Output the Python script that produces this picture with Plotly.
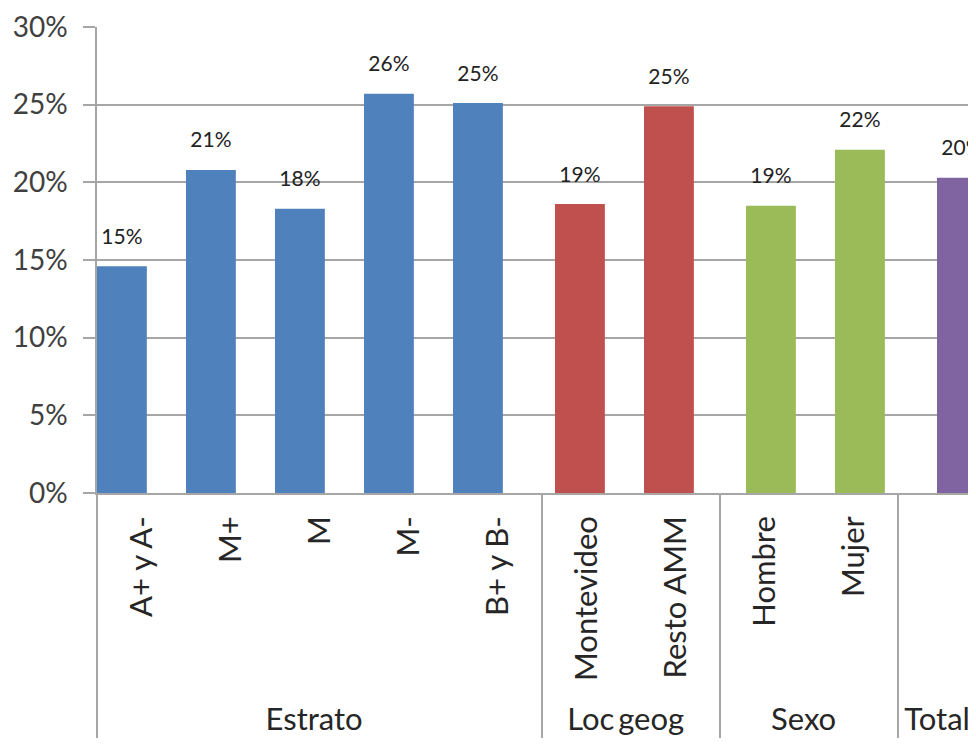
import plotly.graph_objects as go

# Values (share of respondents)
GROUPS = ["Estrato", "Loc geog", "Sexo", "Total"]
CATEGORIES = [
    ["A+ y A-", "M+", "M", "M-", "B+ y B-"],
    ["Montevideo", "Resto AMM"],
    ["Hombre", "Mujer"],
    [""],
]
VALUES = [
    [0.146, 0.208, 0.183, 0.257, 0.251],
    [0.186, 0.249],
    [0.185, 0.221],
    [0.203],
]
LABELS = [
    ["15%", "21%", "18%", "26%", "25%"],
    ["19%", "25%"],
    ["19%", "22%"],
    ["20%"],
]
GROUP_LABELS = ["Estrato", "Loc\u2009geog", "Sexo", "Total"]

COLORS = ["#4F81BD", "#C0504D", "#9BBB59", "#8064A2"]
# excel-style overlapping clusters: each series shifted a bit to the right
OFFSETS = [-0.5, -0.354, -0.208, -0.062]
BAR_WIDTH = 0.56
LABEL_GAP = 0.01  # empty space between bar top and its value label

FONT = "Lato"
GRID = "#A6A6A6"

fig = go.Figure()

for g, cats, vals, labs, col, off, glab in zip(GROUPS, CATEGORIES, VALUES, LABELS,
                                              COLORS, OFFSETS, GROUP_LABELS):
    xs = [[glab] * len(cats), cats]
    fig.add_trace(go.Bar(
        x=xs, y=vals,
        marker=dict(color=col, line=dict(width=0)),
        width=BAR_WIDTH, offset=off,
        name=g, showlegend=False,
    ))
    # invisible spacer bar sitting on top, only used to lift the label
    fig.add_trace(go.Bar(
        x=xs, y=[LABEL_GAP] * len(vals), base=vals,
        text=labs, textposition='outside',
        textfont=dict(family=FONT, size=21, color='#222222'),
        marker=dict(color='rgba(0,0,0,0)', line=dict(width=0)),
        width=BAR_WIDTH, offset=off,
        hoverinfo='skip', showlegend=False,
    ))

# the page adds an 8px body margin, so margins are trimmed by 8
fig.update_layout(
    width=976, height=747,
    margin=dict(l=89, r=0, t=19, b=262),
    paper_bgcolor='white',
    plot_bgcolor='white',
    barmode='overlay',
    font=dict(family=FONT, size=28, color='#404040'),
)

fig.update_xaxes(
    type='multicategory',
    range=[-0.5, 9.466],
    automargin=False,
    showline=True, linecolor=GRID, linewidth=1.5,
    ticks='',
    tickangle=-90,
    ticklabelstandoff=9,
    tickfont=dict(family=FONT, size=31, color='#262626'),
    showdividers=True, dividercolor=GRID, dividerwidth=1.5,
    showgrid=False,
)

fig.update_yaxes(
    range=[0, 0.30],
    dtick=0.05,
    tickformat='.0%',
    automargin=False,
    showgrid=True, gridcolor=GRID, gridwidth=1.5,
    showline=True, linecolor=GRID, linewidth=1.5,
    ticks='outside', ticklen=12, tickcolor=GRID, tickwidth=1.5,
    ticklabelstandoff=10,
    tickfont=dict(family=FONT, size=28, color='#404040'),
    zeroline=False,
)

fig.write_html("out.html")
